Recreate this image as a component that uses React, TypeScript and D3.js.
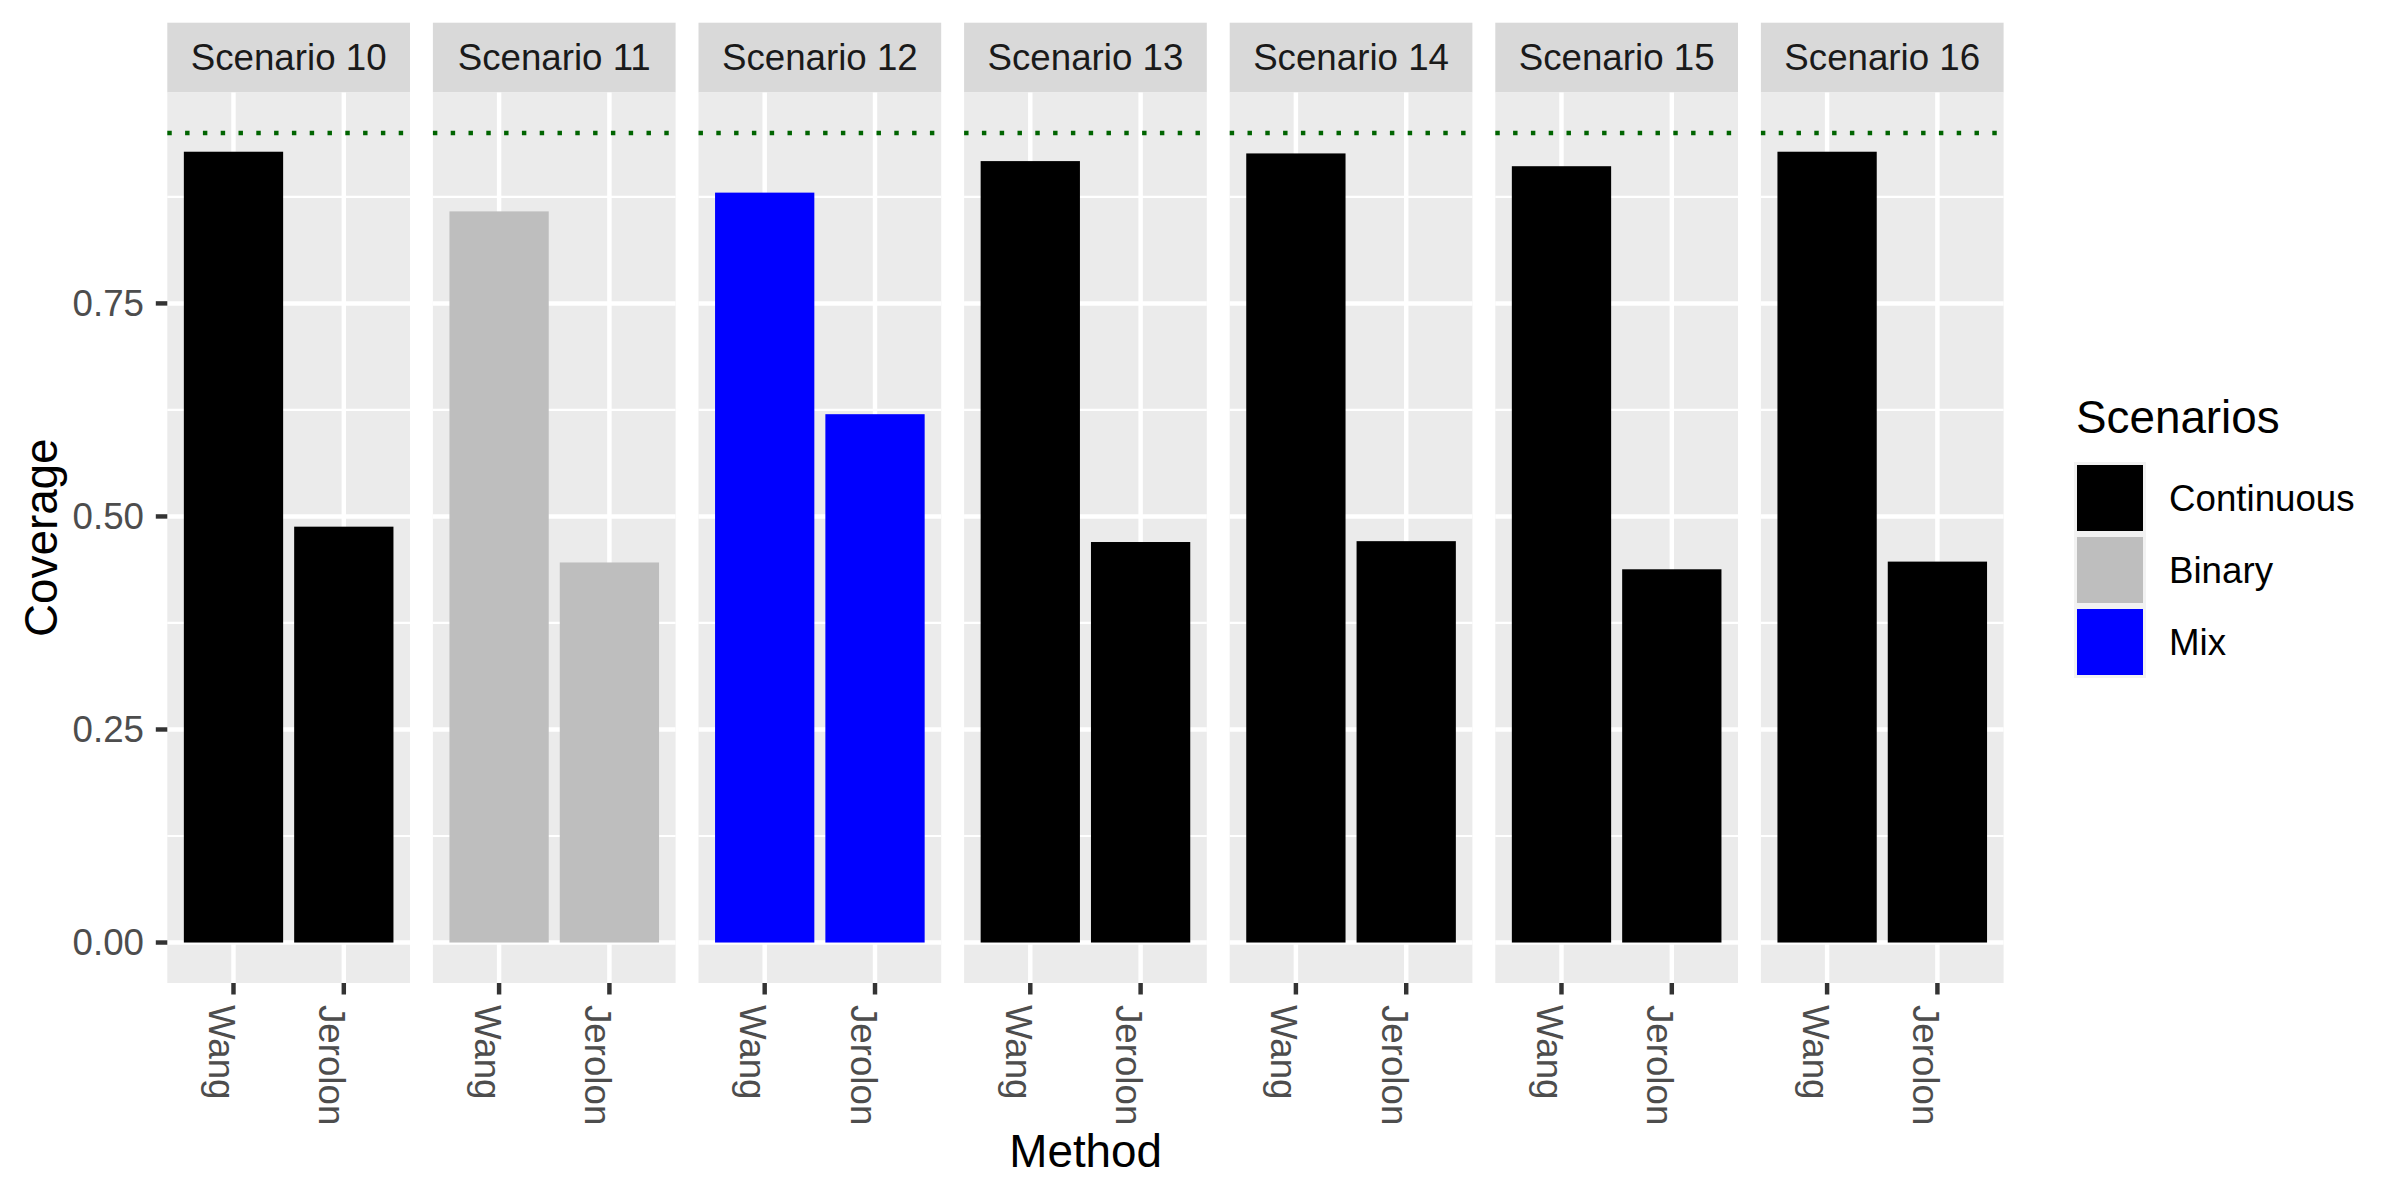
import React from "react";
import * as d3 from "d3";

const scenarios = ["Scenario 10", "Scenario 11", "Scenario 12", "Scenario 13", "Scenario 14", "Scenario 15", "Scenario 16"];
const scenarioType = ["Continuous", "Binary", "Mix", "Continuous", "Continuous", "Continuous", "Continuous"];
const methods = ["Wang", "Jerolon"];
const wangValues = [0.928, 0.858, 0.880, 0.917, 0.926, 0.911, 0.928];
const jerolonValues = [0.488, 0.446, 0.620, 0.470, 0.471, 0.438, 0.447];
const legendLabels = ["Continuous", "Binary", "Mix"];
const legendColors = ["#000000", "#BEBEBE", "#0000FF"];
const yTicks = [0, 0.25, 0.5, 0.75];
const yMinorTicks = [0.125, 0.375, 0.625, 0.875];
const referenceLine = 0.95;

const W = 2400;
const H = 1200;
const FONT = "'Liberation Sans', Arial, Helvetica, sans-serif";

export default function App() {
  const panelLeft = 167.3;
  const panelWidth = 242.7;
  const panelGap = 22.9;
  const stripTop = 22.7;
  const panelTop = 92.5;
  const panelBottom = 983;

  const colorScale = d3.scaleOrdinal<string, string>().domain(legendLabels).range(legendColors);

  const yMax = Math.max(referenceLine, d3.max(wangValues) as number);
  const span = yMax - 0;
  const y = d3
    .scaleLinear()
    .domain([0 - span * 0.05, yMax + span * 0.05])
    .range([panelBottom, panelTop]);

  const x = d3.scaleBand<string>().domain(methods).range([0, panelWidth]).paddingInner(0.1).paddingOuter(0.15);

  const panelX = d3
    .scaleBand<string>()
    .domain(scenarios)
    .range([panelLeft, panelLeft + scenarios.length * panelWidth + (scenarios.length - 1) * panelGap])
    .paddingInner(panelGap / (panelWidth + panelGap))
    .paddingOuter(0);

  const majorW = 4.45;
  const minorW = 2.2;

  const keySize = 72;
  const legendX = 2074;
  const legendKeyTop = 462;

  return (
    <svg width={W} height={H} style={{ position: "absolute", left: 0, top: 0, background: "#FFFFFF" }} fontFamily={FONT}>
      <rect x={0} y={0} width={W} height={H} fill="#FFFFFF" />
      {scenarios.map((sc, i) => {
        const px = panelX(sc) as number;
        const vals = [wangValues[i], jerolonValues[i]];
        const fill = colorScale(scenarioType[i]);
        return (
          <g key={sc} transform={`translate(${px},0)`}>
            {/* strip */}
            <rect x={0} y={stripTop} width={panelWidth} height={panelTop - stripTop} fill="#D9D9D9" />
            <text x={panelWidth / 2} y={70} textAnchor="middle" fontSize={36.7} fill="#1A1A1A">
              {sc}
            </text>
            {/* panel background */}
            <rect x={0} y={panelTop} width={panelWidth} height={panelBottom - panelTop} fill="#EBEBEB" />
            {yMinorTicks.map((t) => (
              <line key={"mn" + t} x1={0} x2={panelWidth} y1={y(t)} y2={y(t)} stroke="#FFFFFF" strokeWidth={minorW} />
            ))}
            {yTicks.map((t) => (
              <line key={"mj" + t} x1={0} x2={panelWidth} y1={y(t)} y2={y(t)} stroke="#FFFFFF" strokeWidth={majorW} />
            ))}
            {methods.map((m) => {
              const cx = (x(m) as number) + x.bandwidth() / 2;
              return <line key={"vx" + m} x1={cx} x2={cx} y1={panelTop} y2={panelBottom} stroke="#FFFFFF" strokeWidth={majorW} />;
            })}
            {/* bars */}
            {methods.map((m, j) => (
              <rect
                key={"bar" + m}
                x={x(m) as number}
                y={y(vals[j])}
                width={x.bandwidth()}
                height={y(0) - y(vals[j])}
                fill={fill}
              />
            ))}
            {/* reference line */}
            <line
              x1={0}
              x2={panelWidth}
              y1={y(referenceLine)}
              y2={y(referenceLine)}
              stroke="#006400"
              strokeWidth={majorW}
              strokeDasharray={`${majorW} ${majorW * 3}`}
            />
            {/* x ticks and labels */}
            {methods.map((m) => {
              const cx = (x(m) as number) + x.bandwidth() / 2;
              return (
                <g key={"xt" + m}>
                  <line x1={cx} x2={cx} y1={panelBottom} y2={panelBottom + 11.5} stroke="#333333" strokeWidth={majorW} />
                  <text
                    transform={`translate(${cx},${panelBottom + 22}) rotate(90)`}
                    x={0}
                    y={24.5}
                    textAnchor="start"
                    fontSize={36.7}
                    fill="#4D4D4D"
                  >
                    {m}
                  </text>
                </g>
              );
            })}
          </g>
        );
      })}
      {/* y axis */}
      {yTicks.map((t) => (
        <g key={"yt" + t}>
          <line x1={panelLeft - 11.5} x2={panelLeft} y1={y(t)} y2={y(t)} stroke="#333333" strokeWidth={majorW} />
          <text x={144} y={y(t)} dy="0.35em" textAnchor="end" fontSize={36.7} fill="#4D4D4D">
            {d3.format(".2f")(t)}
          </text>
        </g>
      ))}
      <text
        transform={`translate(57,${(panelTop + panelBottom) / 2}) rotate(-90)`}
        textAnchor="middle"
        fontSize={45.8}
        fill="#000000"
      >
        Coverage
      </text>
      <text x={(panelLeft + 2004) / 2} y={1167} textAnchor="middle" fontSize={45.8} fill="#000000">
        Method
      </text>
      {/* legend */}
      <text x={legendX + 2} y={433} fontSize={45.8} fill="#000000">
        Scenarios
      </text>
      {legendLabels.map((lab, i) => {
        const ky = legendKeyTop + i * keySize;
        return (
          <g key={"lg" + lab}>
            <rect x={legendX} y={ky} width={keySize} height={keySize} fill="#F2F2F2" />
            <rect x={legendX + 3} y={ky + 3} width={keySize - 6} height={keySize - 6} fill={colorScale(lab)} />
            <text x={legendX + keySize + 23} y={ky + keySize / 2} dy="0.35em" fontSize={36.7} fill="#000000">
              {lab}
            </text>
          </g>
        );
      })}
    </svg>
  );
}
